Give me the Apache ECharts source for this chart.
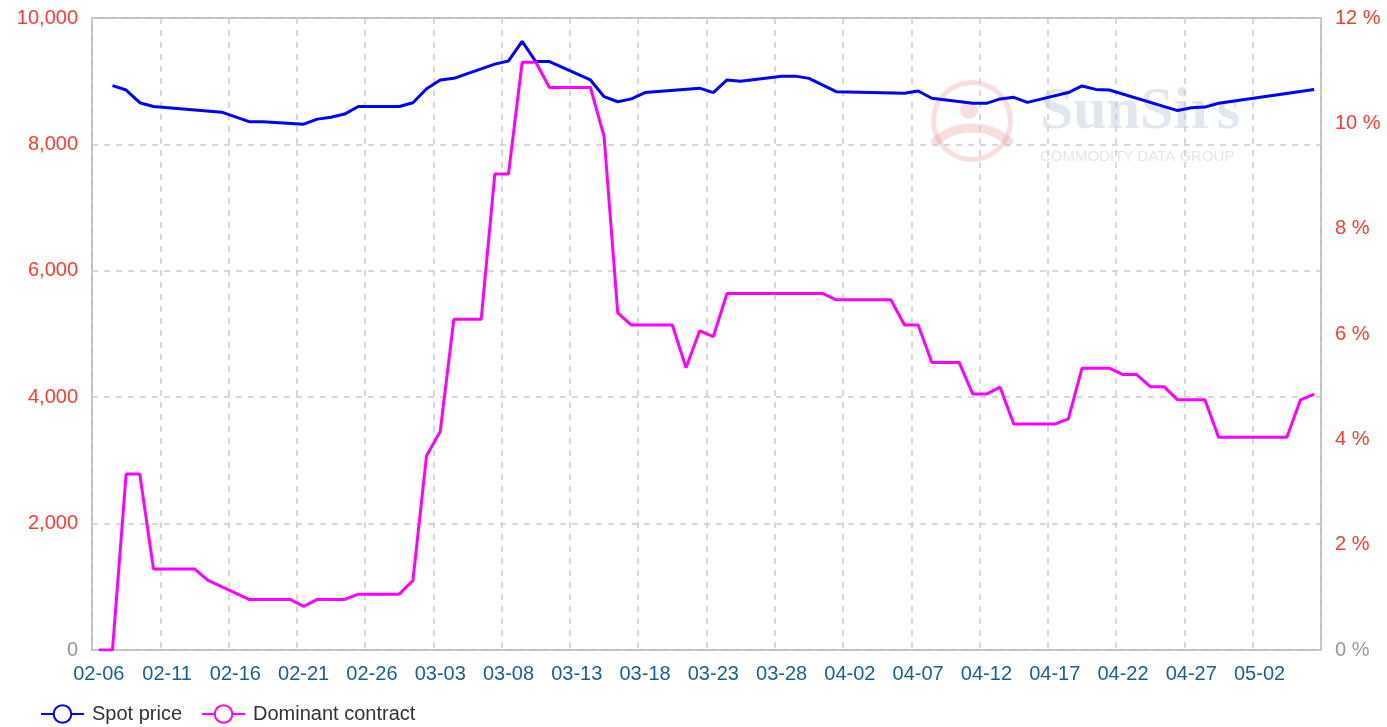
<!DOCTYPE html>
<html>
<head>
<meta charset="utf-8">
<script src="https://cdn.jsdelivr.net/npm/echarts@6/dist/echarts.min.js"></script>
<style>
  html, body { margin: 0; padding: 0; background: #fff; }
  #main { width: 1387px; height: 727px; }
</style>
</head>
<body>
<div id="main"></div>
<script>
// days 02-06 .. 05-06
const dates = [
  '02-06','02-07','02-08','02-09','02-10','02-11','02-12','02-13','02-14','02-15',
  '02-16','02-17','02-18','02-19','02-20','02-21','02-22','02-23','02-24','02-25',
  '02-26','02-27','02-28','03-01','03-02','03-03','03-04','03-05','03-06','03-07',
  '03-08','03-09','03-10','03-11','03-12','03-13','03-14','03-15','03-16','03-17',
  '03-18','03-19','03-20','03-21','03-22','03-23','03-24','03-25','03-26','03-27',
  '03-28','03-29','03-30','03-31','04-01','04-02','04-03','04-04','04-05','04-06',
  '04-07','04-08','04-09','04-10','04-11','04-12','04-13','04-14','04-15','04-16',
  '04-17','04-18','04-19','04-20','04-21','04-22','04-23','04-24','04-25','04-26',
  '04-27','04-28','04-29','04-30','05-01','05-02','05-03','05-04','05-05','05-06'
]

// spot price, null = no quote that day (line connects over it)
const spotPrice = [
  null, 8930, 8860, 8660, 8600, null, null, null, null, 8510,
  null, 8360, 8360, null, null, 8320, 8400, 8430, 8480, 8600,
  8600, 8600, 8600, 8660, 8880, 9020, 9045, null, null, 9270,
  9320, 9630, 9310, 9310, null, null, 9020, 8755, 8675, 8720,
  8820, null, null, null, 8890, 8820, 9020, 9000, null, null,
  9080, 9080, 9045, null, 8835, null, null, null, null, 8810,
  8845, 8730, null, null, 8650, 8650, 8720, 8745, 8665, null,
  null, 8820, 8925, 8870, 8860, null, null, null, null, 8535,
  8580, 8590, 8650, null, null, null, null, null, null, 8870
]

// dominant contract (%)
const dominantContract = [
  0, 0, 3.34, 3.34, 1.54, 1.54, 1.54, 1.54, 1.32, null,
  null, 0.96, 0.96, 0.96, 0.96, 0.83, 0.96, 0.96, 0.96, 1.06,
  1.06, 1.06, 1.06, 1.32, 3.69, 4.15, 6.28, 6.28, 6.28, 9.04,
  9.04, 11.16, 11.16, 10.68, 10.68, 10.68, 10.68, 9.75, 6.40, 6.17,
  6.17, 6.17, 6.17, 5.36, 6.06, 5.95, 6.77, 6.77, 6.77, 6.77,
  6.77, 6.77, 6.77, 6.77, 6.65, 6.65, 6.65, 6.65, 6.65, 6.17,
  6.17, 5.46, 5.46, 5.46, 4.86, 4.86, 4.99, 4.29, 4.29, 4.29,
  4.29, 4.39, 5.35, 5.35, 5.35, 5.23, 5.23, 5.00, 5.00, 4.75,
  4.75, 4.75, 4.04, 4.04, 4.04, 4.04, 4.04, 4.04, 4.75, 4.86
]

const seriesNames = ['Spot price', 'Dominant contract']
const FONT = '"Liberation Sans", Arial, sans-serif'

const chart = echarts.init(document.getElementById('main'), null, { renderer: 'canvas' })

const labelColor = v => (Number(v) === 0 ? '#999' : '#ff3b30')

const option = {
  animation: false,
  backgroundColor: '#fff',
  grid: {
    left: 92, right: 66, top: 18, bottom: 77,
    show: true, borderColor: '#aaa', borderWidth: 1.5,
    outerBoundsMode: 'none'
  },
  graphic: [
    // watermark
    { type: 'ring', silent: true, z: -10, shape: { cx: 972, cy: 121, r: 41, r0: 36 },
      style: { fill: 'rgba(230,150,150,0.3)' } },
    { type: 'circle', silent: true, z: -10, shape: { cx: 969, cy: 110, r: 9 },
      style: { fill: 'rgba(230,150,150,0.3)' } },
    { type: 'arc', silent: true, z: -10,
      shape: { cx: 972, cy: 184, r: 56, startAngle: -Math.PI / 2 - 0.78, endAngle: -Math.PI / 2 + 0.78 },
      style: { stroke: 'rgba(230,150,150,0.3)', lineWidth: 9, fill: null } },
    { type: 'text', silent: true, z: -10, left: 1040, top: 82,
      style: { text: 'SunSirs', font: 'bold 60px "Liberation Serif", serif', fill: 'rgba(180,195,212,0.4)' } },
    { type: 'text', silent: true, z: -10, left: 1040, top: 149,
      style: { text: 'COMMODITY DATA GROUP', font: '15px ' + FONT, fill: 'rgba(200,200,200,0.45)' } }
  ],
  legend: {
    left: 35, top: 699,
    itemWidth: 43, itemHeight: 22, itemGap: 19,
    textStyle: { fontFamily: FONT, fontSize: 20, color: '#333', padding: [0, 0, 0, 3] },
    data: seriesNames
  },
  xAxis: {
    type: 'category',
    data: dates,
    boundaryGap: true,
    axisLine: { show: false },
    axisTick: { show: false },
    axisLabel: { interval: 4, margin: 14, color: '#1a5f8e', fontFamily: FONT, fontSize: 20 },
    splitLine: { show: true, interval: 4, lineStyle: { color: '#ccc', type: [6, 6], width: 1.5 } }
  },
  yAxis: [
    {
      type: 'value', min: 0, max: 10000, interval: 2000,
      axisLine: { show: false }, axisTick: { show: false },
      axisLabel: {
        margin: 14, fontFamily: FONT, fontSize: 20, color: labelColor,
        formatter: v => v.toLocaleString('en-US')
      },
      splitLine: { lineStyle: { color: '#ccc', type: [6, 6], width: 1.5 } }
    },
    {
      type: 'value', min: 0, max: 12, interval: 2,
      axisLine: { show: false }, axisTick: { show: false },
      axisLabel: { margin: 14, fontFamily: FONT, fontSize: 20, color: labelColor, formatter: '{value} %' },
      splitLine: { show: false }
    }
  ],
  series: [
    {
      name: seriesNames[0], type: 'line', yAxisIndex: 0,
      data: spotPrice, connectNulls: true,
      showSymbol: false, symbol: 'emptyCircle', symbolSize: 16,
      itemStyle: { color: '#0000ff' },
      lineStyle: { color: '#0000ff', width: 3 }
    },
    {
      name: seriesNames[1], type: 'line', yAxisIndex: 1,
      data: dominantContract, connectNulls: true,
      showSymbol: false, symbol: 'emptyCircle', symbolSize: 16,
      itemStyle: { color: '#ff00ff' },
      lineStyle: { color: '#ff00ff', width: 3 }
    }
  ]
}

chart.setOption(option)
</script>
</body>
</html>
